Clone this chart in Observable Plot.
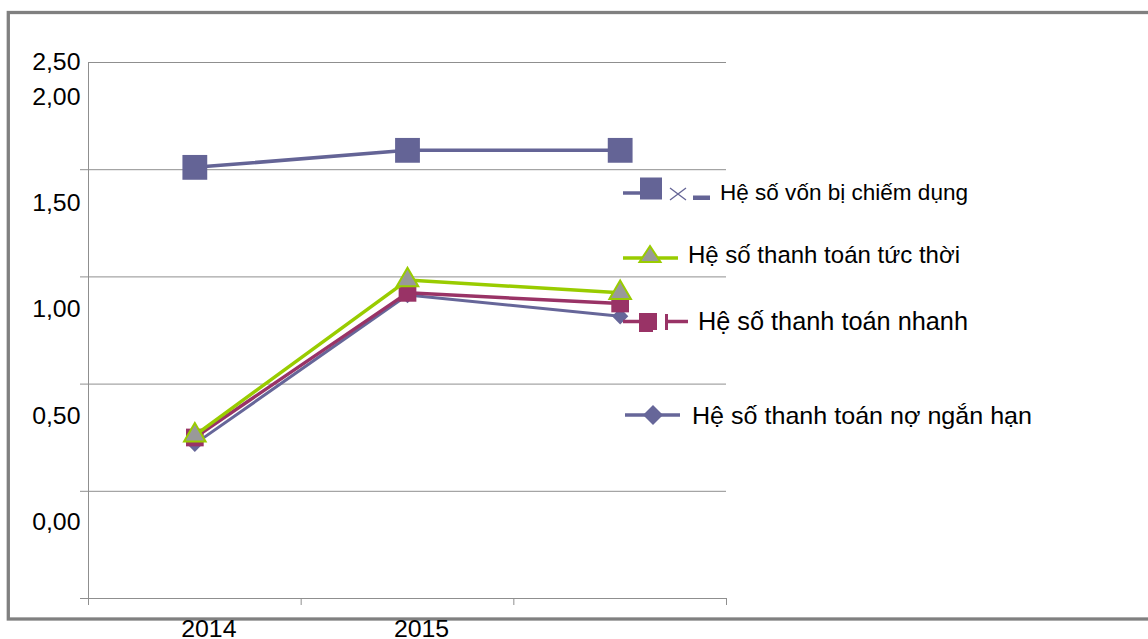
<!DOCTYPE html>
<html><head><meta charset="utf-8">
<script src="https://cdn.jsdelivr.net/npm/d3@7"></script>
<script src="https://cdn.jsdelivr.net/npm/@observablehq/plot@0.6"></script>
<style>body{margin:0;background:#fff;} #chart svg{display:block;}</style>
</head><body><div id="chart"></div>
<script>
// ---- data ----
const years = ["2014", "2015", "2016"];
const xTickLabels = ["2014", "2015"];
const seriesNames = ["Hệ số vốn bị chiếm dụng", "Hệ số thanh toán tức thời", "Hệ số thanh toán nhanh", "Hệ số thanh toán nợ ngắn hạn"];
const vonBiChiemDung = [1.67, 1.75, 1.75];
const thanhToanTucThoi = [0.41, 1.14, 1.08];
const thanhToanNhanh = [0.40, 1.08, 1.03];
const thanhToanNoNganHan = [0.37, 1.07, 0.97];
const yTickValues = [0, 0.5, 1, 1.5, 2];
const yTopLabel = "2,50";

// ---- config ----
const yDomain = [-0.357, 2.163];
const gridVals = d3.range(6).map(k => yDomain[0] + k * (yDomain[1] - yDomain[0]) / 5);
const fmt = d => d.toFixed(2).replace(".", ",");
const diamond = {draw(ctx, size) {const s = Math.sqrt(size / 2); ctx.moveTo(0, -s); ctx.lineTo(s, 0); ctx.lineTo(0, s); ctx.lineTo(-s, 0); ctx.closePath();}};
const rows = vals => years.map((year, i) => ({i, year, value: vals[i]}));

const styles = [
  {values: vonBiChiemDung, stroke: "#646496", sw: 3.5, symbol: "square", r: 14, fill: "#646496", mstroke: "none"},
  {values: thanhToanNoNganHan, stroke: "#666699", sw: 3, symbol: diamond, r: 6.5, fill: "#666699", mstroke: "none"},
  {values: thanhToanNhanh, stroke: "#993366", sw: 3.5, symbol: "square", r: 10, fill: "#993366", mstroke: "none"},
  {values: thanhToanTucThoi, stroke: "#99CC00", sw: 3.5, symbol: "triangle", r: 8, fill: "#999999", mstroke: "#99CC00"}
];

const grey = "#8f8f8f";
const seriesMarks = styles.flatMap(s => [
  Plot.line(rows(s.values), {x: "i", y: "value", stroke: s.stroke, strokeWidth: s.sw}),
  Plot.dot(rows(s.values), {x: "i", y: "value", symbol: s.symbol, r: s.r, fill: s.fill, stroke: s.mstroke, strokeWidth: 2})
]);

const plot = Plot.plot({
  width: 1148, height: 639,
  marginLeft: 88, marginRight: 422, marginTop: 62, marginBottom: 41,
  style: {fontFamily: "'Liberation Sans', Arial, sans-serif", background: "transparent", color: "#000"},
  x: {type: "linear", domain: [-0.5, 2.5], axis: null},
  y: {domain: yDomain, axis: null},
  marks: [
    Plot.gridY(gridVals, {stroke: grey, strokeOpacity: 1, strokeWidth: 1}),
    Plot.axisY(gridVals.slice(0, -1), {tickSize: 8, tickFormat: () => "", stroke: grey, label: null}),
    Plot.ruleX([-0.5], {stroke: grey, insetBottom: -7}),
    Plot.ruleY([yDomain[0]], {stroke: grey}),
    Plot.axisX([-0.5, 0.5, 1.5, 2.5], {tickSize: 7, tickFormat: () => "", stroke: grey, label: null}),
    Plot.axisY(yTickValues, {tickSize: 0, tickPadding: 8, tickFormat: fmt, fontSize: 23, fill: "#000", label: null}),
    Plot.text([yTopLabel], {frameAnchor: "top-left", dx: -8, textAnchor: "end", lineAnchor: "middle", fontSize: 23, fill: "#000"}),
    Plot.axisX([0, 1], {tickSize: 0, tickPadding: 22, tickFormat: i => xTickLabels[i], dx: 14, fontSize: 23, fill: "#000", label: null}),
    ...seriesMarks
  ]
});
document.getElementById("chart").appendChild(plot);

// widen axis texts slightly (reference glyphs are horizontally stretched)
d3.select(plot).selectAll("text").each(function() {
  const t = this.textContent;
  if (!t) return;
  const w = this.getComputedTextLength();
  if (w > 0) d3.select(this).attr("textLength", w * 1.08).attr("lengthAdjust", "spacingAndGlyphs");
});

// ---- frame border ----
const svg = d3.select(plot);
svg.insert("rect", ":first-child")
  .attr("x", 8.3).attr("y", 12.5).attr("width", 1200).attr("height", 606.5)
  .attr("fill", "none").attr("stroke", "#808080").attr("stroke-width", 3.3);

// ---- legend ----
const lg = svg.append("g").attr("font-family", "'Liberation Sans', Arial, sans-serif").attr("fill", "#000").attr("text-anchor", "start");
const legendText = (x, y, size, len, str) => lg.append("text").attr("x", x).attr("y", y).attr("font-size", size)
  .attr("textLength", len).attr("lengthAdjust", "spacingAndGlyphs").text(str);
// 1: vốn bị chiếm dụng
lg.append("line").attr("x1", 623).attr("x2", 641).attr("y1", 193).attr("y2", 193).attr("stroke", "#646496").attr("stroke-width", 3.5);
lg.append("rect").attr("x", 640).attr("y", 177.5).attr("width", 22).attr("height", 22).attr("fill", "#646496");
lg.append("path").attr("d", "M670,188 L686,200 M686,188 L670,200").attr("stroke", "#646496").attr("stroke-width", 1.3).attr("fill", "none");
lg.append("rect").attr("x", 693).attr("y", 195.5).attr("width", 17).attr("height", 4.5).attr("fill", "#646496");
legendText(720, 200, 21.5, 248, seriesNames[0]);
// 2: tức thời
lg.append("line").attr("x1", 623).attr("x2", 678).attr("y1", 258).attr("y2", 258).attr("stroke", "#99CC00").attr("stroke-width", 3.5);
lg.append("path").attr("d", "M650,246 L660.5,262 L639.5,262 Z").attr("fill", "#999999").attr("stroke", "#99CC00").attr("stroke-width", 2);
legendText(688, 263, 24.5, 272, seriesNames[1]);
// 3: nhanh
lg.append("line").attr("x1", 623).attr("x2", 640).attr("y1", 321.5).attr("y2", 321.5).attr("stroke", "#993366").attr("stroke-width", 3.5);
lg.append("rect").attr("x", 639).attr("y", 313).attr("width", 18).attr("height", 17).attr("fill", "#993366");
lg.append("rect").attr("x", 639).attr("y", 330).attr("width", 14).attr("height", 2).attr("fill", "#993366");
lg.append("line").attr("x1", 666.5).attr("x2", 666.5).attr("y1", 314).attr("y2", 330).attr("stroke", "#993366").attr("stroke-width", 3);
lg.append("line").attr("x1", 666).attr("x2", 688).attr("y1", 321.5).attr("y2", 321.5).attr("stroke", "#993366").attr("stroke-width", 3.5);
legendText(698, 330, 25, 270, seriesNames[2]);
// 4: nợ ngắn hạn
lg.append("line").attr("x1", 625).attr("x2", 680).attr("y1", 415).attr("y2", 415).attr("stroke", "#666699").attr("stroke-width", 3.5);
lg.append("path").attr("d", "M653,405 L663,415 L653,425 L643,415 Z").attr("fill", "#666699");
legendText(692, 423.5, 24.2, 340, seriesNames[3]);
</script>
</body></html>
